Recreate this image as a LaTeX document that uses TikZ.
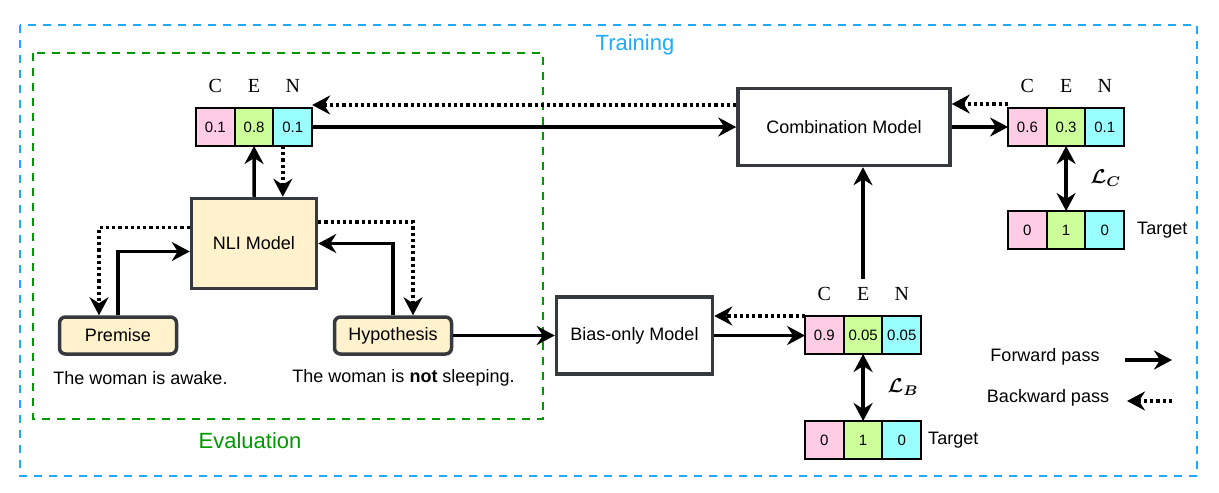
\documentclass[tikz,border=0pt]{standalone}
\usepackage{amsmath}
\usepackage{fontspec}
\setmainfont{Liberation Sans}
\newfontfamily\clsfont{Liberation Serif}
\usepackage{tikz}
\usetikzlibrary{arrows.meta}
\usetikzlibrary{positioning}

\definecolor{edgegray}{HTML}{36393D}
\definecolor{boxyellow}{HTML}{FFF2CC}
\definecolor{cellpink}{HTML}{FFCCE6}
\definecolor{cellgreen}{HTML}{CCFF99}
\definecolor{cellcyan}{HTML}{99FFFF}
\definecolor{trainblue}{RGB}{31,170,255}
\definecolor{evalgreen}{HTML}{009900}

\begin{document}
\begin{tikzpicture}[x=0.5pt,y=-0.5pt,>={Stealth[length=9pt,width=9.5pt,inset=3pt]},
        font=\fontsize{9}{11}\selectfont,
        nli box/.style={draw=edgegray,fill=boxyellow,line width=1.75pt,minimum width=62.5pt,minimum height=45pt},
        input box/.style={draw=edgegray,fill=boxyellow,line width=1.75pt,rounded corners=3pt,minimum width=58.5pt,minimum height=18.5pt},
        model box/.style={draw=edgegray,fill=white,line width=1.75pt,minimum height=38.5pt},
        cell/.style={draw,line width=1pt,minimum width=19.35pt,minimum height=19pt,inner sep=0pt,outer sep=0pt,font=\fontsize{7.5}{9}\selectfont},
        pc/.style={cell,fill=cellpink},
        pe/.style={cell,fill=cellgreen},
        pn/.style={cell,fill=cellcyan},
        cls/.style={font=\clsfont\fontsize{10}{12}\selectfont,above=4pt of #1},
        fwd/.style={->,line width=1.75pt},
        bwd/.style={->,line width=1.75pt,dash pattern=on 1.6pt off 1.5pt},
        loss/.style={<->,line width=1.75pt},
        loss label/.style={right=8pt,font=\fontsize{10}{12}\selectfont},
        frame/.style={line width=1.25pt,dash pattern=on 4pt off 3.5pt}]

        \useasboundingbox (0,0) rectangle (1219,492);

        % frames
        \draw[frame,draw=trainblue] (20,25) rectangle (1197,476);
        \draw[frame,draw=evalgreen] (33,53) rectangle (543,419);
        \node[text=trainblue,font=\fontsize{11}{13}\selectfont] (train) at (635,45) {Training};
        \node[text=evalgreen,font=\fontsize{11}{13}\selectfont] (eval) at (250,441) {Evaluation};

        % NLI part
        \node[nli box] (nli) at (254,243.5) {NLI Model};
        \node[input box] (prem) at (118,335.5) {Premise};
        \node[input box] (hyp) at (393,335.5) {Hypothesis};
        \node (premtxt) at (140.5,378) {The woman is awake.};
        \node (hyptxt) at (403.5,378) {The woman is \textbf{not} sleeping.};

        \node[pc] (a1) at (215.4,127) {0.1};
        \node[pe,right=0pt of a1] (a2) {0.8};
        \node[pn,right=0pt of a2] (a3) {0.1};
        \node[cls=a1] (a1l) {C};
        \node[cls=a2] (a2l) {E};
        \node[cls=a3] (a3l) {N};

        % combination
        \node[model box,minimum width=106pt] (comb) at (844,127) {Combination Model};
        \node[pc] (c1) at (1027.4,127) {0.6};
        \node[pe,right=0pt of c1] (c2) {0.3};
        \node[pn,right=0pt of c2] (c3) {0.1};
        \node[cls=c1] (c1l) {C};
        \node[cls=c2] (c2l) {E};
        \node[cls=c3] (c3l) {N};
        \node[pc] (t1) at (1027.4,230) {0};
        \node[pe,right=0pt of t1] (t2) {1};
        \node[pn,right=0pt of t2] (t3) {0};
        \node[right=3pt of t3] (ttxt) {Target};

        % bias-only
        \node[model box,minimum width=78pt] (bias) at (634.5,335.5) {Bias-only Model};
        \node[pc] (b1) at (824.4,335) {0.9};
        \node[pe,right=0pt of b1] (b2) {0.05};
        \node[pn,right=0pt of b2] (b3) {0.05};
        \node[cls=b1] (b1l) {C};
        \node[cls=b2] (b2l) {E};
        \node[cls=b3] (b3l) {N};
        \node[pc] (bt1) at (824.4,440) {0};
        \node[pe,right=0pt of bt1] (bt2) {1};
        \node[pn,right=0pt of bt2] (bt3) {0};
        \node[right=0pt of bt3] (bttxt) {Target};
        \coordinate (bup) at (863,279);

        % forward pass
        \draw[fwd] (prem.north) |- ([yshift=-4pt]nli.west);
        \draw[fwd] (hyp.north) |- (nli.east);
        \draw[fwd] (nli.north) -- (a2.south);
        \draw[fwd] (a3.east) -- (comb.west);
        \draw[fwd] (comb.east) -- (c1.west);
        \draw[fwd] (hyp.east) -- (bias.west);
        \draw[fwd] (bias.east) -- (bias.east -| b1.west);
        \draw[fwd] (bup) -- (bup |- comb.south);

        % backward pass
        \draw[bwd] ([yshift=8pt]nli.west) -| ([xshift=-9.5pt]prem.north);
        \draw[bwd] ([yshift=10.75pt]nli.east) -| ([xshift=10pt]hyp.north);
        \draw[bwd] ([xshift=-5pt]a3.south) -- ([xshift=-5pt]a3.south |- nli.north);
        \draw[bwd] ([yshift=11pt]comb.west) -- ([yshift=11pt]comb.west -| a3.east);
        \draw[bwd] ([yshift=11.5pt]c1.west) -- ([yshift=11.5pt]c1.west -| comb.east);
        \draw[bwd] ([yshift=9.5pt]b1.west) -- ([yshift=9.5pt]b1.west -| bias.east);

        % losses
        \draw[loss] (c2.south) -- node[loss label] {$\boldsymbol{\mathcal{L}_C}$} (t2.north);
        \draw[loss] (b2.south) -- node[loss label] {$\boldsymbol{\mathcal{L}_B}$} (bt2.north);

        % legend
        \node (fwdtxt) at (1045,357) {Forward pass};
        \node (bwdtxt) at (1048,398) {Backward pass};
        \coordinate (fa) at (1125,360);
        \coordinate (fb) at (1172,360);
        \coordinate (ba) at (1172,401);
        \coordinate (bb) at (1127,401);
        \draw[fwd] (fa) -- (fb);
        \draw[bwd] (ba) -- (bb);
\end{tikzpicture}
\end{document}
